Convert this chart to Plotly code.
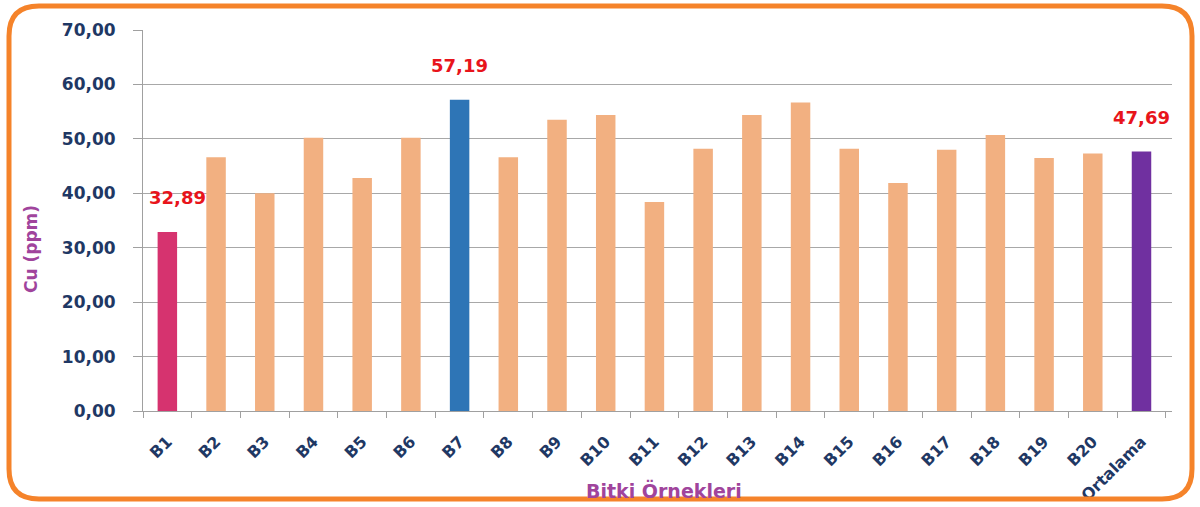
import plotly.graph_objects as go

categories = ["B1", "B2", "B3", "B4", "B5", "B6", "B7", "B8", "B9", "B10",
              "B11", "B12", "B13", "B14", "B15", "B16", "B17", "B18", "B19", "B20", "Ortalama"]
values = [32.89, 46.6, 40.0, 50.2, 42.8, 50.2, 57.19, 46.6, 53.5, 54.4,
          38.4, 48.2, 54.4, 56.7, 48.2, 41.9, 48.0, 50.7, 46.5, 47.3, 47.69]
labelled = ["B1", "B7", "Ortalama"]
special_colors = {"B1": "#D6336F", "B7": "#2E75B6", "Ortalama": "#7030A0"}
base_color = "#F2B081"
y_ticks = [0, 10, 20, 30, 40, 50, 60, 70]

colors = [special_colors.get(c, base_color) for c in categories]

W, H = 1200, 507
L, R, T, B = 143, 28, 30, 96
pw, ph = W - L - R, H - T - B


def px(x, y):
    return (x - L) / pw, (H - B - y) / ph


fig = go.Figure()
fig.add_trace(go.Bar(x=categories, y=values, marker_color=colors, marker_line_width=0,
                     hoverinfo="x+y"))

for c, v in zip(categories, values):
    if c in labelled:
        fig.add_annotation(x=c, y=v, text=f"{v:.2f}".replace(".", ","), showarrow=False,
                           yshift=34, xshift=10 if c == "B1" else 0,
                           font=dict(family="DejaVu Sans", size=18, color="#E8141B", weight="bold"))

title_color = "#A0449C"
ax, ay = px(664, 490)
fig.add_annotation(x=ax, y=ay, xref="paper", yref="paper", text="Bitki Örnekleri", showarrow=False,
                   xanchor="center", yanchor="middle",
                   font=dict(family="DejaVu Sans", size=19, color=title_color, weight="bold"))
ax, ay = px(31, 249)
fig.add_annotation(x=ax, y=ay, xref="paper", yref="paper", text="Cu (ppm)", showarrow=False,
                   xanchor="center", yanchor="middle", textangle=-90,
                   font=dict(family="DejaVu Sans", size=17, color=title_color, weight="bold"))

# rounded orange frame
x0, y0, x1, y1, r = 9, 6, 1192, 499, 30
def p(x, y):
    a, b = px(x, y)
    return f"{a:.5f},{b:.5f}"
path = (f"M {p(x0 + r, y0)} L {p(x1 - r, y0)} Q {p(x1, y0)} {p(x1, y0 + r)} "
        f"L {p(x1, y1 - r)} Q {p(x1, y1)} {p(x1 - r, y1)} "
        f"L {p(x0 + r, y1)} Q {p(x0, y1)} {p(x0, y1 - r)} "
        f"L {p(x0, y0 + r)} Q {p(x0, y0)} {p(x0 + r, y0)} Z")
fig.add_shape(type="path", path=path, xref="paper", yref="paper",
              line=dict(color="#F5832A", width=5), layer="above")

navy = "#1F3864"
fig.update_layout(
    width=W, height=H,
    margin=dict(l=L, r=R, t=T, b=B, autoexpand=False),
    paper_bgcolor="white", plot_bgcolor="white",
    separators=",.",
    bargap=0.6,
    showlegend=False,
    xaxis=dict(
        type="category",
        automargin=False,
        tickangle=-45,
        tickfont=dict(family="DejaVu Sans", size=16, color=navy, weight="bold"),
        showline=True, linecolor="#A0A0A0", linewidth=1,
        ticks="outside", ticklen=6, tickcolor="#A0A0A0", tickson="boundaries",
        ticklabelstandoff=14,
        showgrid=False,
    ),
    yaxis=dict(
        automargin=False,
        range=[0, 70],
        tickvals=y_ticks,
        tickformat=".2f",
        tickfont=dict(family="DejaVu Sans", size=17, color=navy, weight="bold"),
        showline=True, linecolor="#A0A0A0", linewidth=1,
        ticks="outside", ticklen=9, tickcolor="#A0A0A0",
        showgrid=True, gridcolor="#A8A8A8", gridwidth=1,
        zeroline=False,
        ticklabelstandoff=14,
    ),
)

fig.write_html("out.html", config={"displayModeBar": False},
               post_script="document.body.style.margin='0';document.body.style.padding='0';")
